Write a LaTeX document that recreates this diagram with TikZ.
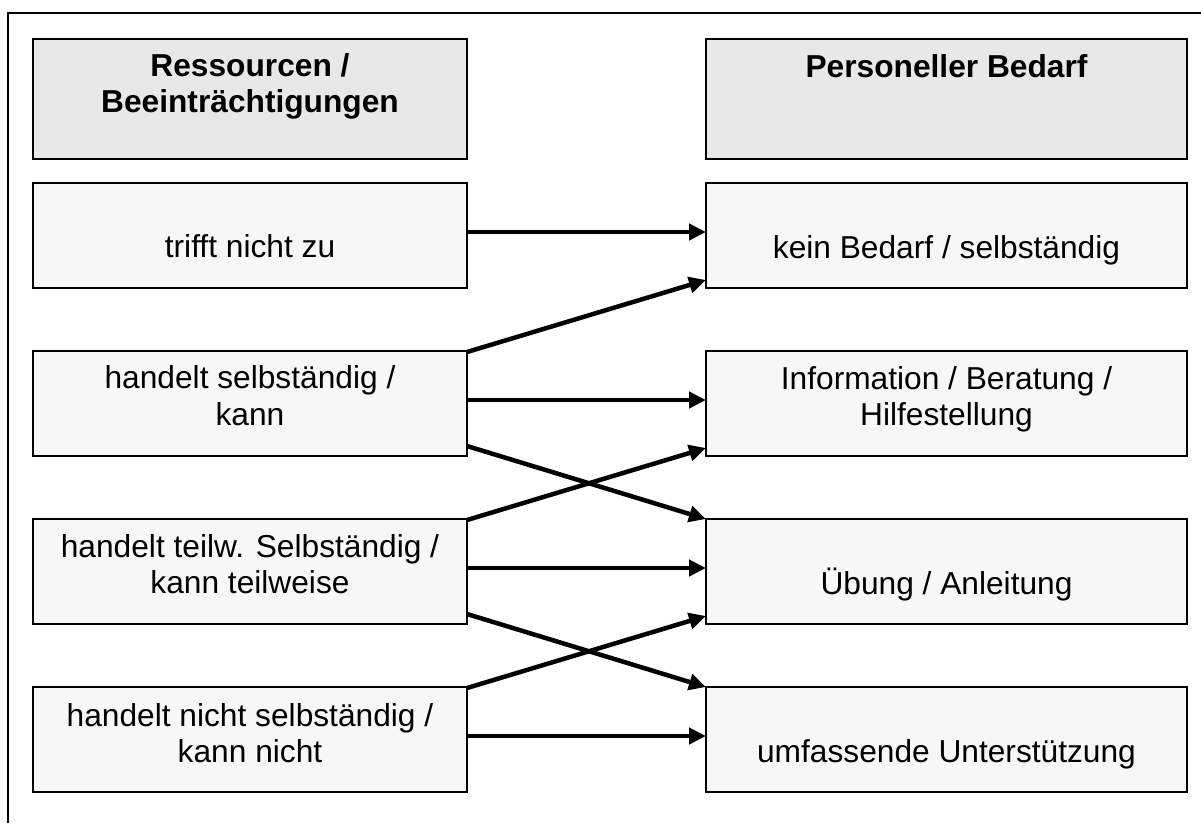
\documentclass[tikz,border=0pt]{standalone}
\usepackage{fontspec}
\setmainfont{Liberation Sans}
\usetikzlibrary{arrows.meta,calc}
\definecolor{headfill}{HTML}{E8E8E8}
\definecolor{boxfill}{HTML}{F7F7F7}
\begin{document}
\begin{tikzpicture}[x=1pt,y=-1pt,
  base/.style={draw=black,line width=2pt,inner sep=0pt,outer sep=0pt,anchor=north west},
  lbox/.style={base,fill=boxfill,minimum width=434pt,minimum height=105pt},
  rbox/.style={base,fill=boxfill,minimum width=481pt,minimum height=105pt},
  lhead/.style={base,fill=headfill,minimum width=434pt,minimum height=120pt},
  rhead/.style={base,fill=headfill,minimum width=481pt,minimum height=120pt},
  txt/.style={anchor=base,inner sep=0pt,font=\fontsize{31.7pt}{36pt}\selectfont},
  htxt/.style={txt,font=\fontsize{31.7pt}{36pt}\selectfont\bfseries},
  conn/.style={line width=4.5pt,-{Triangle[length=17pt,width=16pt]}}]
\useasboundingbox (0,0) rectangle (1201,823);
\fill[white] (0,0) rectangle (1201,823);
\draw[line width=2pt] (8,823) -- (8,13) -- (1201,13);
% headers
\node[lhead] (HL) at (33,39) {};
\node[rhead] (HR) at (706,39) {};
\node[htxt] (hl1) at ($(HL.north)+(0,37)$) {Ressourcen /};
\node[htxt] (hl2) at ($(HL.north)+(0,73)$) {Beeinträchtigungen};
\node[htxt] (hr1) at ($(HR.north)+(0,38)$) {Personeller Bedarf};
% left boxes
\node[lbox] (L1) at (33,183) {};
\node[lbox] (L2) at (33,351) {};
\node[lbox] (L3) at (33,519) {};
\node[lbox] (L4) at (33,687) {};
% right boxes
\node[rbox] (R1) at (706,183) {};
\node[rbox] (R2) at (706,351) {};
\node[rbox] (R3) at (706,519) {};
\node[rbox] (R4) at (706,687) {};
% texts
\node[txt] (l1b) at ($(L1.north)+(0,74)$) {trifft nicht zu};
\node[txt] (l2a) at ($(L2.north)+(0,37)$) {handelt selbständig /};
\node[txt] (l2b) at ($(L2.north)+(0,74)$) {kann};
\node[txt] (l3a) at ($(L3.north)+(0,38)$) {handelt teilw. Selbständig /};
\node[txt] (l3b) at ($(L3.north)+(0,74)$) {kann teilweise};
\node[txt] (l4a) at ($(L4.north)+(0,39)$) {handelt nicht selbständig /};
\node[txt] (l4b) at ($(L4.north)+(0,75)$) {kann nicht};
\node[txt] (r1b) at ($(R1.north)+(0,75)$) {kein Bedarf / selbständig};
\node[txt] (r2a) at ($(R2.north)+(0,38)$) {Information / Beratung /};
\node[txt] (r2b) at ($(R2.north)+(0,74)$) {Hilfestellung};
\node[txt] (r3b) at ($(R3.north)+(0,75)$) {Übung / Anleitung};
\node[txt] (r4b) at ($(R4.north)+(0,75)$) {umfassende Unterstützung};
% connectors: horizontal
\foreach \i in {1,2,3,4}
  \draw[conn] ([yshift=3.5pt]L\i.east) -- ([yshift=3.5pt]R\i.west);
% connectors: upward
\foreach \i/\j in {2/1,3/2,4/3}
  \draw[conn] ([yshift=-1pt]L\i.north east) -- ([yshift=8pt]R\j.south west);
% connectors: downward
\foreach \i/\j in {2/3,3/4}
  \draw[conn] ([yshift=10pt]L\i.south east) -- (R\j.north west);
\end{tikzpicture}
\end{document}
